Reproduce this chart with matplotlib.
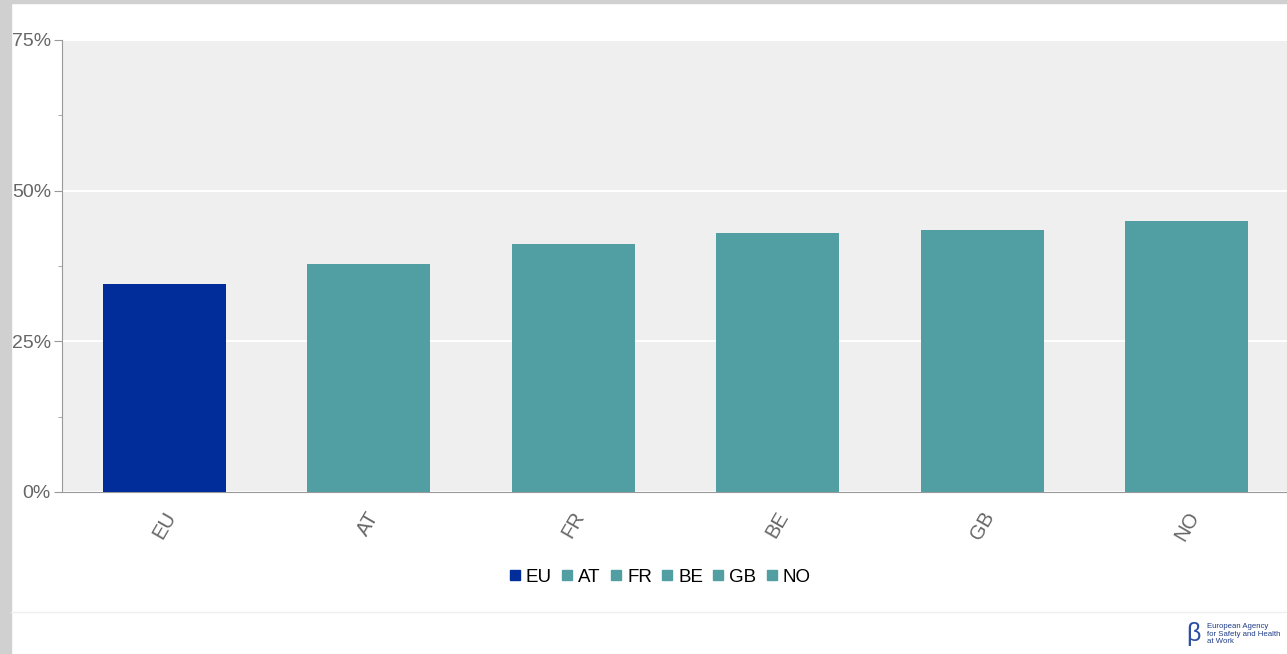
import matplotlib.pyplot as plt
from matplotlib.lines import Line2D
from matplotlib.patches import Rectangle
import numpy as np

countries = ['EU', 'AT', 'FR', 'BE', 'GB', 'NO']
values = [34.5, 37.8, 41.1, 43.0, 43.5, 45.0]
colors = ['#012d9b', '#519fa2', '#519fa2', '#519fa2', '#519fa2', '#519fa2']
yticks = [0, 25, 50, 75]
ytick_labels = ['0%', '25%', '50%', '75%']

plt.rcParams['font.family'] = ['Liberation Sans', 'DejaVu Sans']

fig = plt.figure(figsize=(12.87, 6.54), dpi=100)
fig.patch.set_facecolor('white')

# grey frame strips on the left and top
fig.patches.append(Rectangle((0, 0), 11/1287, 1, transform=fig.transFigure,
                             color='#d0d0d0', zorder=0))
fig.patches.append(Rectangle((0, 1 - 3/654), 1, 3/654, transform=fig.transFigure,
                             color='#d0d0d0', zorder=0))
# thin separator above the footer
fig.add_artist(Line2D([11/1287, 1], [1 - 612/654] * 2, transform=fig.transFigure,
                      color='#eeeeee', lw=1))

ax = fig.add_axes([62/1287, 1 - 492/654, (1289 - 62)/1287, (492 - 40)/654])
ax.set_facecolor('#efefef')

x = np.arange(len(countries))
ax.bar(x, values, width=0.6, color=colors, zorder=3)

ax.set_xlim(-0.5, 5.5)
ax.set_ylim(0, 75)
ax.set_yticks(yticks)
ax.set_yticklabels(ytick_labels)
ax.set_yticks([12.5, 37.5, 62.5], minor=True)
ax.grid(axis='y', color='white', lw=1.5, zorder=1)
ax.set_axisbelow(True)

for s in ['top', 'right']:
    ax.spines[s].set_visible(False)
ax.spines['left'].set_color('#999999')
ax.spines['bottom'].set_color('#999999')
ax.tick_params(axis='y', which='major', length=6, color='#999999',
               labelsize=14, labelcolor='#666666', pad=2)
ax.tick_params(axis='y', which='minor', length=3, color='#999999')
ax.tick_params(axis='x', length=0, pad=12)
ax.set_xticks(x)
ax.set_xticklabels(countries, rotation=60, ha='center', va='top',
                   fontsize=14.5, color='#666666')

# legend with small square markers
handles = [Line2D([], [], marker='s', ls='none', color=c, markersize=6.5)
           for c in colors]
fig.legend(handles, countries, loc='center', bbox_to_anchor=(659/1287, 1 - 577/654),
           ncol=6, frameon=False, fontsize=13.5, handletextpad=0.2,
           columnspacing=0.4, handlelength=0.8)

# agency logo text in the footer
fig.text(1207/1287, 1 - 634/654, 'European Agency\nfor Safety and Health\nat Work',
         fontsize=5.6, color='#1f3c88', va='center', ha='left', linespacing=1.05)
fig.text(1193/1287, 1 - 634/654, '\u03b2', fontsize=18, color='#2c4fa3',
         va='center', ha='center')

fig.savefig('out.png', dpi=100)
